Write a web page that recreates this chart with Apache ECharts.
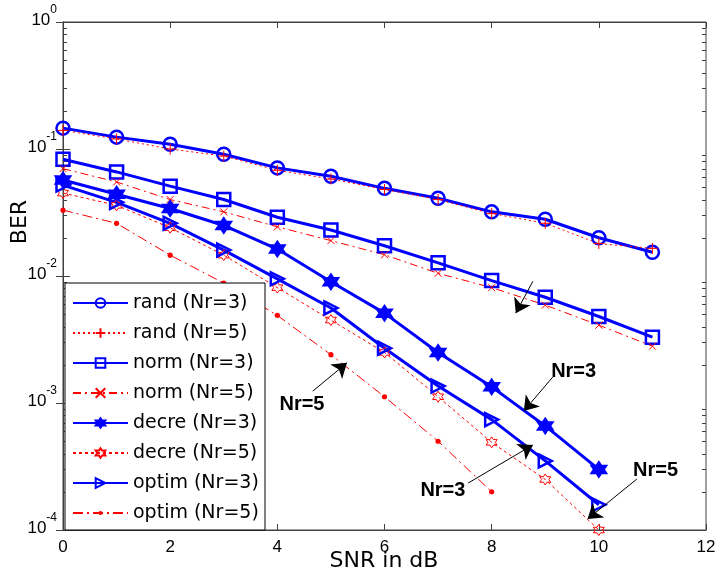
<!DOCTYPE html>
<html>
<head>
<meta charset="utf-8">
<script src="https://cdn.jsdelivr.net/npm/echarts@6.0.0/dist/echarts.min.js"></script>
<style>
  html, body { margin: 0; padding: 0; background: #fff; }
  #main { width: 720px; height: 574px; }
</style>
</head>
<body>
<div id="main"></div>
<script>
// SNR (dB) and BER values
const snr = [0, 1, 2, 3, 4, 5, 6, 7, 8, 9, 10, 11];
const randNr3 = [0.146, 0.124, 0.109, 0.091, 0.071, 0.061, 0.049, 0.041, 0.032, 0.028, 0.020, 0.0154];
const randNr5 = [0.140, 0.120, 0.100, 0.088, 0.068, 0.058, 0.048, 0.040, 0.031, 0.026, 0.018, 0.0165];
const normNr3 = [0.083, 0.066, 0.051, 0.040, 0.029, 0.023, 0.0173, 0.0127, 0.0092, 0.0068, 0.0048, 0.0033];
const normNr5 = [0.070, 0.055, 0.040, 0.032, 0.0244, 0.019, 0.0147, 0.0105, 0.0081, 0.0059, 0.0041, 0.0028];
const decreNr3 = [0.057, 0.044, 0.034, 0.025, 0.0163, 0.0090, 0.0051, 0.0025, 0.00134, 0.00066, 0.0003];
const decreNr5 = [0.045, 0.036, 0.024, 0.0146, 0.0081, 0.0045, 0.0025, 0.00112, 0.00049, 0.00025, 0.0001];
const optimNr3 = [0.052, 0.038, 0.026, 0.016, 0.0095, 0.0056, 0.0027, 0.00136, 0.00074, 0.00035, 0.000158];
const optimNr5 = [0.033, 0.026, 0.0146, 0.0088, 0.0049, 0.0024, 0.00112, 0.0005, 0.0002];

// arrows [x1, y1, x2(tip), y2(tip)] and labels, in data coordinates
const arrowLines = [
  [8.77, 0.0091, 8.45, 0.0051],
  [4.66, 0.00124, 5.30, 0.00207],
  [9.14, 0.0016, 8.60, 0.000865],
  [7.56, 0.000234, 8.77, 0.000468],
  [10.71, 0.000252, 9.79, 0.000122]
];
const noteTexts = [
  ['Nr=5', 4.46, 0.00098],
  ['Nr=3', 9.53, 0.00178],
  ['Nr=3', 7.09, 0.000203],
  ['Nr=5', 11.06, 0.000296]
];

const BLUE = '#0000ff';
const RED = '#ff0000';
const NONE = 'rgba(0,0,0,0)';

function pairs(arr) {
  return arr.map((v, i) => [snr[i], v]);
}

function hexagram() {
  let d = '';
  for (let k = 0; k < 12; k++) {
    const r = k % 2 === 0 ? 10 : 5.77;
    const a = (-90 + k * 30) * Math.PI / 180;
    d += (k === 0 ? 'M' : 'L') + (r * Math.cos(a)).toFixed(2) + ',' + (r * Math.sin(a)).toFixed(2);
  }
  return 'path://' + d + 'Z';
}
const HEX = hexagram();
const PLUS = 'path://M0,-10V10M-10,0H10';
const CROSS = 'path://M-10,-10L10,10M-10,10L10,-10';
const TRI = 'path://M-8,-10L10,0L-8,10Z';
// small dot inside a larger empty box, so the legend icon stays small too
const DOT = 'path://M-5,-5L-5,-5M5,5L5,5M-2,0A2,2 0 1 1 2,0A2,2 0 1 1 -2,0Z';

function blue(name, data, symbol, size, fill) {
  return {
    name: name, type: 'line', data: pairs(data), clip: false,
    symbol: symbol, symbolSize: size,
    lineStyle: {color: BLUE, width: 3},
    itemStyle: {color: fill ? BLUE : NONE, borderColor: BLUE, borderWidth: 2.5}
  };
}
function red(name, data, symbol, size, dash, fill) {
  return {
    name: name, type: 'line', data: pairs(data), clip: false,
    symbol: symbol, symbolSize: size,
    lineStyle: {color: RED, width: 1, type: dash},
    itemStyle: {color: fill ? RED : NONE, borderColor: RED, borderWidth: fill ? 0 : 1}
  };
}

const names = ['rand (Nr=3)', 'rand (Nr=5)', 'norm (Nr=3)', 'norm (Nr=5)',
  'decre (Nr=3)', 'decre (Nr=5)', 'optim (Nr=3)', 'optim (Nr=5)'];

const chart = echarts.init(document.getElementById('main'));
const tickFont = 'Liberation Sans';

chart.setOption({
  animation: false,
  backgroundColor: '#fff',
  grid: {left: 63, right: 14, top: 22, bottom: 44, show: true, borderColor: '#404040', borderWidth: 1},
  xAxis: [{
    type: 'value', min: 0, max: 12, interval: 2,
    axisLine: {lineStyle: {color: '#404040'}},
    axisTick: {inside: true, length: 6, lineStyle: {color: '#404040'}},
    splitLine: {show: false},
    axisLabel: {color: '#000', fontSize: 17, fontFamily: tickFont, margin: 9}
  }, {
    type: 'value', min: 0, max: 12, interval: 2, position: 'top',
    axisLine: {lineStyle: {color: '#404040'}},
    axisTick: {inside: true, length: 6, lineStyle: {color: '#404040'}},
    splitLine: {show: false}, axisLabel: {show: false}
  }],
  yAxis: [{
    type: 'log', logBase: 10, min: 0.0001, max: 1,
    axisLine: {lineStyle: {color: '#404040'}},
    axisTick: {inside: true, length: 7, lineStyle: {color: '#404040'}},
    splitLine: {show: false},
    axisLabel: {
      margin: 6, padding: [0, 0, 3, 0],
      formatter: v => '{b|10}{s|' + Math.round(Math.log10(v)) + '}',
      rich: {
        b: {fontSize: 17, lineHeight: 17, fontFamily: tickFont, color: '#000', verticalAlign: 'bottom'},
        s: {fontSize: 12, lineHeight: 12, fontFamily: tickFont, color: '#000', verticalAlign: 'bottom', padding: [0, 0, 13, 0]}
      }
    }
  }, {
    type: 'log', logBase: 10, min: 0.0001, max: 1, position: 'right',
    axisLine: {lineStyle: {color: '#404040'}},
    axisTick: {inside: true, length: 7, lineStyle: {color: '#404040'}},
    splitLine: {show: false}, axisLabel: {show: false}
  }],
  legend: {
    data: names, orient: 'vertical', left: 65, top: 283,
    backgroundColor: '#fff', borderColor: '#000', borderWidth: 1,
    padding: [10, 5, 7, 7], itemGap: 10, itemWidth: 55, itemHeight: 12,
    selectedMode: false,
    textStyle: {color: '#000', fontSize: 19, lineHeight: 20, fontFamily: 'DejaVu Sans', width: 127}
  },
  series: [
    blue(names[0], randNr3, 'circle', 13, false),
    red(names[1], randNr5, PLUS, 11, [2, 3], false),
    blue(names[2], normNr3, 'rect', 13, false),
    red(names[3], normNr5, CROSS, 7, [8, 4, 2, 4], false),
    blue(names[4], decreNr3, HEX, 14, true),
    red(names[5], decreNr5, HEX, 11, [3, 3], false),
    blue(names[6], optimNr3, TRI, 13, false),
    red(names[7], optimNr5, DOT, 13, [10, 4, 2, 4], true),
    {
      type: 'lines', coordinateSystem: 'cartesian2d', silent: true, z: 10,
      symbol: ['none', 'arrow'], symbolSize: 14,
      lineStyle: {color: '#000', width: 1, opacity: 1},
      data: arrowLines.map(a => ({coords: [[a[0], a[1]], [a[2], a[3]]]}))
    }
  ]
});

// minor log ticks (2..9 per decade) on left and right, arrow labels, axis titles
const graphics = [];
const left = chart.convertToPixel({xAxisIndex: 0}, 0);
const right = chart.convertToPixel({xAxisIndex: 0}, 12);
for (let e = -4; e < 0; e++) {
  for (let m = 2; m <= 9; m++) {
    const y = Math.round(chart.convertToPixel({yAxisIndex: 0}, m * Math.pow(10, e))) + 0.5;
    graphics.push({type: 'line', silent: true, shape: {x1: left, y1: y, x2: left + 4, y2: y}, style: {stroke: '#404040', lineWidth: 1}});
    graphics.push({type: 'line', silent: true, shape: {x1: right - 4, y1: y, x2: right, y2: y}, style: {stroke: '#404040', lineWidth: 1}});
  }
}
noteTexts.forEach(n => {
  const p = chart.convertToPixel({xAxisIndex: 0, yAxisIndex: 0}, [n[1], n[2]]);
  graphics.push({
    type: 'text', x: p[0], y: p[1], z: 20, silent: true,
    style: {text: n[0], fill: '#000', font: 'bold 20px "Liberation Sans Narrow", "Liberation Sans"', align: 'center', verticalAlign: 'middle'}
  });
});
graphics.push({
  type: 'text', x: 20, y: 222, rotation: Math.PI / 2,
  style: {text: 'BER', fill: '#000', font: '22px "DejaVu Sans"', align: 'center', verticalAlign: 'middle'}
});
graphics.push({
  type: 'text', x: 384, y: 561,
  style: {text: 'SNR in dB', fill: '#000', font: '22px "DejaVu Sans"', align: 'center', verticalAlign: 'middle'}
});
chart.setOption({graphic: graphics});
</script>
</body>
</html>
